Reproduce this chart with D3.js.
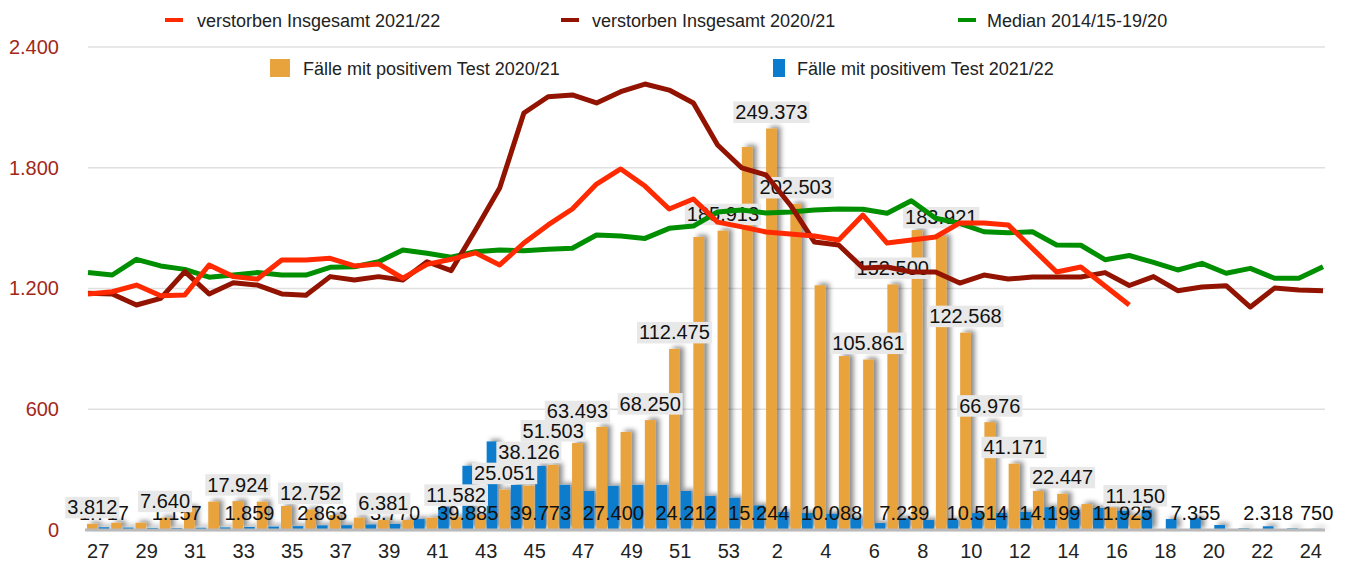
<!DOCTYPE html>
<html>
<head>
<meta charset="utf-8">
<script src="https://cdn.jsdelivr.net/npm/d3@7"></script>
<style>
  body { margin: 0; background: #fff; }
  svg { font-family: "Liberation Sans", Arial, sans-serif; }
</style>
</head>
<body>
<div id="chart"></div>
<script>
// calendar weeks of the bar chart (season week 27 .. week 24)
const weeks = ["27","28","29","30","31","32","33","34","35","36","37","38","39","40","41","42","43","44","45","46","47","48","49","50","51","52","53",
               "1","2","3","4","5","6","7","8","9","10","11","12","13","14","15","16","17","18","19","20","21","22","23","24"];

// cases with positive test (bars)
const cases2021 = [3812,4500,4500,7640,14100,17600,17924,17600,14900,12752,9300,7640,6381,6200,7600,8200,9300,25051,27500,40400,54000,64000,60900,68250,112475,182000,185913,
                   237900,249373,202503,152000,108000,105861,152500,186300,182500,122568,66976,41171,24200,22447,16100,14000,9000,0,0,0,0,0,0,0];
const cases2122 = [1717,1500,1300,1157,1400,1600,1859,2100,2400,2863,3000,3400,3770,6800,14300,39885,55000,28000,39773,28000,24200,27400,28000,28000,24212,21100,20000,
                   15244,11200,10500,10088,7500,4300,7239,6200,6200,10514,10600,11200,14199,12400,13700,11925,12400,6800,7355,3100,1000,2318,1000,750];

// data labels shown for the orange series (week, value)
const orangeLabelWeeks = ["27","30","33","36","39","42","44","45","46","47","50","51","53","2","3","6","7","9","10","11","12","14","17"];
const orangeLabelValues = [3812,7640,17924,12752,6381,11582,25051,38126,51503,63493,68250,112475,185913,249373,202503,105861,152500,183921,122568,66976,41171,22447,11150];

// weekly deaths (lines), week 27 .. week 25
const lineWeeks = ["27","28","29","30","31","32","33","34","35","36","37","38","39","40","41","42","43","44","45","46","47","48","49","50","51","52","53",
                   "1","2","3","4","5","6","7","8","9","10","11","12","13","14","15","16","17","18","19","20","21","22","23","24","25"];
const deaths2122 = [1173,1184,1217,1164,1168,1317,1259,1247,1342,1342,1350,1312,1322,1251,1320,1345,1377,1317,1426,1516,1595,1719,1794,1709,1595,1645,1530,
                    1506,1481,1471,1461,1441,1565,1426,1441,1456,1526,1526,1516,1399,1282,1307,1212,1118];
const deaths2021 = [1176,1173,1118,1151,1284,1173,1229,1217,1173,1166,1259,1242,1259,1242,1333,1289,1491,1699,2072,2153,2162,2122,2178,2216,2186,2122,1913,
                    1799,1764,1615,1431,1416,1302,1307,1282,1282,1227,1267,1247,1257,1257,1257,1279,1215,1259,1189,1207,1214,1108,1202,1193,1189];
const median = [1279,1267,1345,1312,1295,1256,1267,1279,1267,1267,1305,1308,1333,1391,1375,1355,1383,1391,1388,1395,1400,1466,1461,1449,1499,1510,1580,
                1590,1575,1580,1590,1595,1594,1574,1636,1549,1524,1482,1477,1482,1416,1415,1343,1364,1330,1292,1325,1276,1300,1251,1251,1308];

const yTicks = [0, 600, 1200, 1800, 2400];

const W = 1350, H = 566;
const de = d3.formatLocale({decimal: ",", thousands: ".", grouping: [3], currency: ["", " €"]});
const fmt = de.format(",d");

const svg = d3.select('#chart').append('svg').attr('width', W).attr('height', H);

const defs = svg.append('defs');
const shadow = defs.append('filter').attr('id', 'shadow')
    .attr('x', '-5%').attr('y', '-10%').attr('width', '115%').attr('height', '120%');
shadow.append('feDropShadow')
    .attr('dx', 4).attr('dy', -2).attr('stdDeviation', 2.5)
    .attr('flood-color', '#000').attr('flood-opacity', 0.45);

const x = d3.scaleBand().domain(weeks).range([86, 1323]).paddingInner(0.08).paddingOuter(0.04);
const xSub = d3.scaleBand().domain(['a', 'b']).range([0, x.bandwidth()]).paddingInner(0.08);
const xLine = d3.scalePoint().domain(lineWeeks).range([88, 1323]);
const y = d3.scaleLinear().domain([0, 2400]).range([530, 47]);
const yCases = d3.scaleLinear().domain([0, 300000]).range([530, 47]);

// grid
svg.append('g').selectAll('line')
    .data(yTicks.filter(d => d > 0))
    .enter().append('line')
    .attr('x1', 88).attr('x2', 1325)
    .attr('y1', d => y(d)).attr('y2', d => y(d))
    .attr('stroke', '#e0e0e0').attr('stroke-width', 1.5);

// y axis labels
const yAxis = svg.append('g').attr('transform', 'translate(62,0)')
    .call(d3.axisLeft(y).tickValues(yTicks).tickSize(0).tickPadding(3).tickFormat(fmt));
yAxis.select('.domain').remove();
yAxis.selectAll('text').attr('font-size', 20).attr('fill', '#a2281a')
    .attr('font-family', '"Liberation Sans", Arial, sans-serif');

// bars
const bars = svg.append('g').attr('filter', 'url(#shadow)');
bars.selectAll('rect.o')
    .data(weeks.map((w, i) => ({w: w, v: cases2021[i]})).filter(d => d.v > 0))
    .enter().append('rect')
    .attr('class', 'o')
    .attr('x', d => x(d.w) + xSub('a'))
    .attr('width', xSub.bandwidth())
    .attr('y', d => yCases(d.v))
    .attr('height', d => 530 - yCases(d.v))
    .attr('fill', '#e8a33d');
bars.selectAll('rect.b')
    .data(weeks.map((w, i) => ({w: w, v: cases2122[i]})))
    .enter().append('rect')
    .attr('class', 'b')
    .attr('x', d => x(d.w) + xSub('b'))
    .attr('width', xSub.bandwidth())
    .attr('y', d => yCases(d.v))
    .attr('height', d => 530 - yCases(d.v))
    .attr('fill', '#0a7ccd');

// baseline
svg.append('line')
    .attr('x1', 85).attr('x2', 1325).attr('y1', 530).attr('y2', 530)
    .attr('stroke', '#b9b9b9').attr('stroke-width', 3);

// x axis labels
const xAxis = svg.append('g').attr('transform', 'translate(0,530)')
    .call(d3.axisBottom(x).tickValues(weeks.filter((w, i) => i % 2 === 0)).tickSize(0).tickPadding(14));
xAxis.select('.domain').remove();
xAxis.selectAll('text').attr('font-size', 20).attr('fill', '#222')
    .attr('font-family', '"Liberation Sans", Arial, sans-serif');

// labels of the blue series: every third week and the last one
svg.append('g').selectAll('text')
    .data(weeks.map((w, i) => ({w: w, v: cases2122[i], i: i}))
        .filter(d => d.i % 3 === 0 || d.i === weeks.length - 1))
    .enter().append('text')
    .attr('x', d => x(d.w) + xSub('b') + xSub.bandwidth() / 2)
    .attr('y', 520)
    .attr('text-anchor', 'middle')
    .attr('font-size', 20)
    .attr('fill', '#111')
    .text(d => fmt(d.v));

// labels of the orange series, with a light box
const oLab = svg.append('g').selectAll('g')
    .data(orangeLabelWeeks.map((w, i) => ({w: w, v: orangeLabelValues[i]})))
    .enter().append('g')
    .attr('transform', d => 'translate(' + (x(d.w) + xSub('a') + xSub.bandwidth() / 2) + ',' + yCases(d.v) + ')');
oLab.append('rect').attr('fill', '#e8e8e8');
oLab.append('text')
    .attr('y', -9.5)
    .attr('text-anchor', 'middle')
    .attr('font-size', 20)
    .attr('fill', '#111')
    .text(d => fmt(d.v));
oLab.each(function() {
    const g = d3.select(this);
    const tw = g.select('text').node().getComputedTextLength();
    g.select('rect').attr('x', -tw / 2 - 2).attr('width', tw + 4).attr('y', -27).attr('height', 21.5);
});

// lines
const line = d3.line()
    .x((d, i) => xLine(lineWeeks[i]))
    .y(d => y(d));

const series = [
    {name: 'median', values: median, color: '#008f00'},
    {name: 'd2021', values: deaths2021, color: '#921400'},
    {name: 'd2122', values: deaths2122, color: '#ff2a00'}
];
svg.append('g').selectAll('path')
    .data(series)
    .enter().append('path')
    .attr('fill', 'none')
    .attr('stroke', d => d.color)
    .attr('stroke-width', 5)
    .attr('stroke-linejoin', 'round')
    .attr('d', d => line(d.values));

// legend
const legendLines = [
    {label: 'verstorben Insgesamt 2021/22', color: '#ff2a00', x: 165, tx: 197},
    {label: 'verstorben Insgesamt 2020/21', color: '#921400', x: 561, tx: 592},
    {label: 'Median 2014/15-19/20', color: '#008f00', x: 958, tx: 987}
];
const legendBars = [
    {label: 'Fälle mit positivem Test 2020/21', color: '#e8a33d', x: 270, w: 20, tx: 303},
    {label: 'Fälle mit positivem Test 2021/22', color: '#0a7ccd', x: 773, w: 12, tx: 797}
];
const lg = svg.append('g');
legendLines.forEach(d => {
    lg.append('line').attr('x1', d.x).attr('x2', d.x + 18).attr('y1', 20).attr('y2', 20)
        .attr('stroke', d.color).attr('stroke-width', 4);
    lg.append('text').attr('x', d.tx).attr('y', 26.5).attr('font-size', 18).attr('fill', '#222').text(d.label);
});
legendBars.forEach(d => {
    lg.append('rect').attr('x', d.x).attr('y', 59).attr('width', d.w).attr('height', 18).attr('fill', d.color);
    lg.append('text').attr('x', d.tx).attr('y', 74.5).attr('font-size', 18).attr('fill', '#222').text(d.label);
});
</script>
</body>
</html>
